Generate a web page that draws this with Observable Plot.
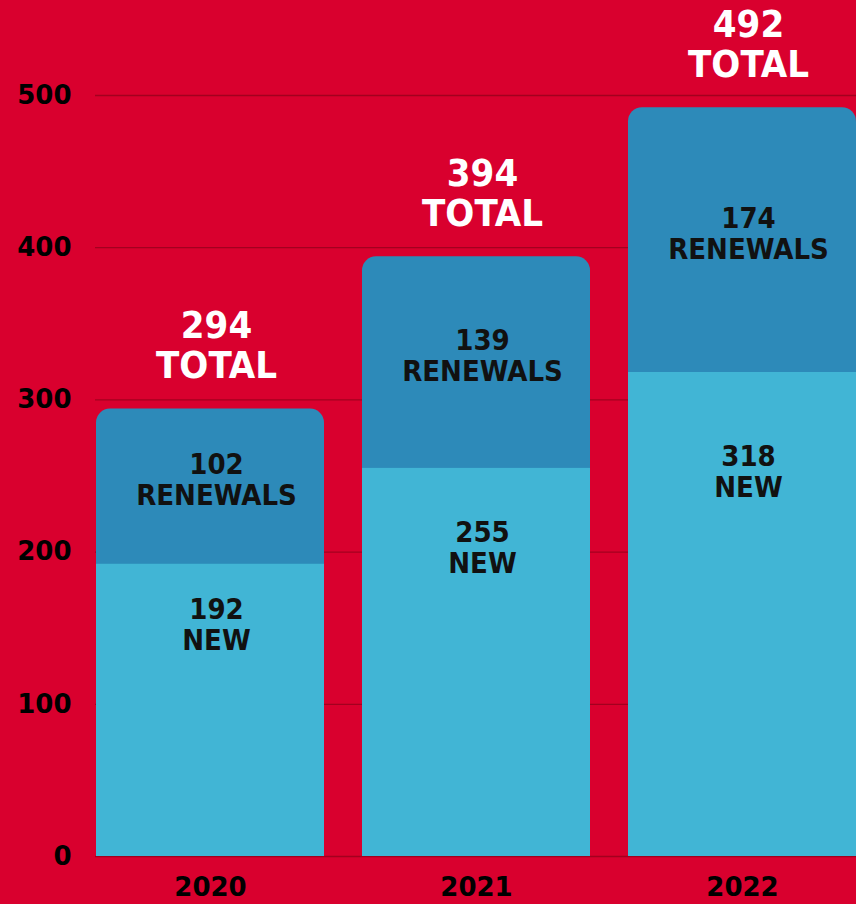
<!DOCTYPE html>
<html>
<head>
<meta charset="utf-8">
<script src="https://cdn.jsdelivr.net/npm/d3@7"></script>
<script src="https://cdn.jsdelivr.net/npm/@observablehq/plot@0.6"></script>
<style>
  html, body { margin: 0; padding: 0; background: #D9002E; }
  #chart svg { display: block; }
</style>
</head>
<body>
<div id="chart"></div>
<script>
const years = ["2020", "2021", "2022"];
const newMembers = [192, 255, 318];
const renewals = [102, 139, 174];
const totals = [294, 394, 492];
const yTicks = [0, 100, 200, 300, 400, 500];

const rows = years.map((year, i) => ({
  year,
  newCount: newMembers[i],
  renewals: renewals[i],
  total: totals[i]
}));

const labelFont = "'Liberation Sans Narrow', 'DejaVu Sans Condensed', 'Arial Narrow', sans-serif";
const tickFont = "'DejaVu Sans', sans-serif";

const chart = Plot.plot({
  width: 856,
  height: 904,
  marginTop: 95,
  marginBottom: 48,
  marginLeft: 95,
  marginRight: 0,
  style: { background: "#D9002E", fontFamily: tickFont },
  x: { domain: years, paddingInner: 0.143, paddingOuter: 0, label: null },
  y: { domain: [0, 500], label: null },
  marks: [
    Plot.gridY(yTicks, { stroke: "#A3001F", strokeOpacity: 1, strokeWidth: 1.3 }),
    Plot.barY(rows, { x: "year", y: "total", fill: "#2D8AB9", rx: 14 }),
    Plot.barY(rows, { x: "year", y: "newCount", fill: "#41B5D5" }),
    Plot.axisY(yTicks, {
      tickSize: 0, tickPadding: 24, fontSize: 26, fontWeight: "bold",
      fontFamily: tickFont, fill: "#000", label: null, textAnchor: "end"
    }),
    Plot.axisX({
      tickSize: 0, tickPadding: 21, fontSize: 26, fontWeight: "bold",
      fontFamily: tickFont, fill: "#000", label: null
    }),
    Plot.text(rows, {
      x: "year", y: (d) => (d.newCount + d.total) / 2,
      text: (d) => `${d.renewals}\nRENEWALS`,
      fontFamily: labelFont, fontWeight: 700, fontSize: 29, lineHeight: 1.07,
      fill: "#111", lineAnchor: "middle", dy: -7, dx: 6,
      style: "letter-spacing:2px"
    }),
    Plot.text(rows, {
      x: "year", y: (d) => d.newCount * 0.795,
      text: (d) => `${d.newCount}\nNEW`,
      fontFamily: labelFont, fontWeight: 700, fontSize: 29, lineHeight: 1.07,
      fill: "#111", lineAnchor: "middle", dx: 6,
      style: "letter-spacing:2px"
    }),
    Plot.text(rows, {
      x: "year", y: "total",
      text: (d) => `${d.total}\nTOTAL`,
      fontFamily: labelFont, fontWeight: 700, fontSize: 38, lineHeight: 1.05,
      fill: "#fff", lineAnchor: "bottom", dy: -31, dx: 6,
      style: "letter-spacing:3px"
    })
  ]
});

document.getElementById("chart").appendChild(chart);
</script>
</body>
</html>
